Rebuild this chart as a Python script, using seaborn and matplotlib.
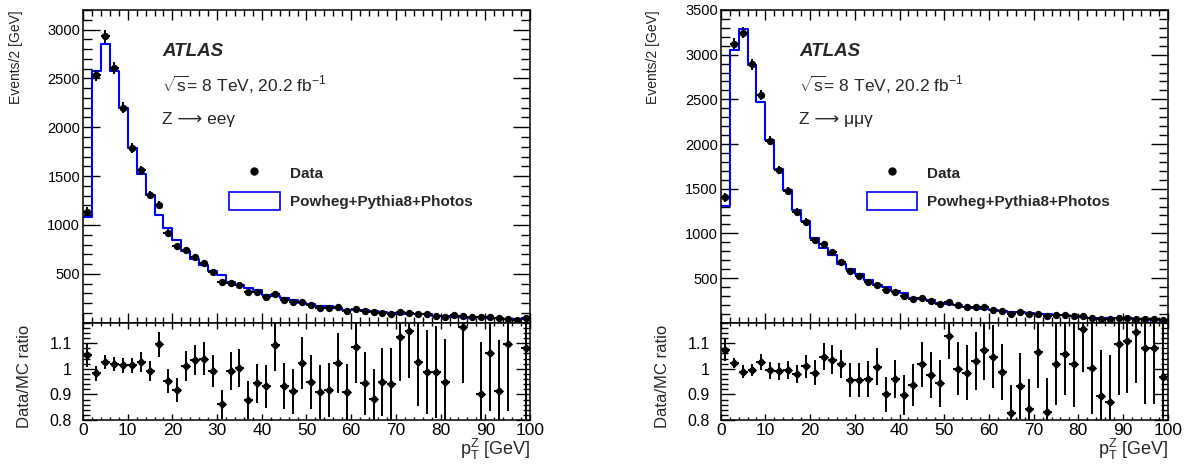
import numpy as np
import pandas as pd
import matplotlib
matplotlib.use("Agg")
import matplotlib.pyplot as plt
import seaborn as sns
from matplotlib.lines import Line2D
from matplotlib.patches import Patch
from matplotlib.ticker import MultipleLocator, FixedLocator, FuncFormatter

# === binning (2 GeV bins from 0 to 100) ===
bin_edges = np.arange(0, 101, 2)
bin_centers = bin_edges[:-1] + 1

# === Z -> ee gamma ===
ee_mc = [1085, 2580, 2850, 2575, 2200, 1790, 1520, 1310, 1100, 965,
         850, 735, 650, 595, 525, 485, 415, 385, 355, 330,
         285, 270, 250, 230, 205, 190, 170, 168, 154, 135,
         126, 127, 120, 109, 95, 94, 90, 87, 87, 73,
         64, 62, 58, 44, 61, 52, 49, 35, 40, 42]
ee_data = [1135, 2530, 2930, 2605, 2200, 1790, 1560, 1305, 1205, 920,
           780, 745, 670, 612, 519, 420, 410, 386, 311, 311,
           266, 294, 232, 209, 209, 181, 154, 154, 157, 123,
           137, 120, 106, 103, 89, 106, 103, 89, 86, 72,
           61, 78, 68, 55, 55, 55, 45, 38, 27, 45]
ee_data_err = [45, 60, 65, 60, 55, 50, 45, 42, 40, 35,
               32, 31, 30, 28, 26, 24, 23, 22, 20, 20,
               19, 19, 18, 17, 17, 16, 15, 15, 15, 13,
               14, 13, 12, 12, 11, 12, 12, 11, 11, 10,
               9, 10, 10, 9, 9, 9, 8, 8, 7, 8]
ee_ratio = [1.053, 0.982, 1.027, 1.020, 1.014, 1.014, 1.027, 0.991, 1.095, 0.952,
            0.916, 1.010, 1.033, 1.040, 0.991, 0.861, 0.991, 1.004, 0.878, 0.943,
            0.932, 1.091, 0.932, 0.913, 1.023, 0.948, 0.909, 0.917, 1.023, 0.909,
            1.086, 0.943, 0.881, 0.948, 0.939, 1.124, 1.149, 1.025, 0.987, 0.987,
            0.948, np.nan, 1.163, np.nan, 0.903, 1.062, 0.913, 1.095, np.nan, 1.082]
ee_ratio_err = [0.045, 0.028, 0.028, 0.027, 0.030, 0.030, 0.039, 0.040, 0.049, 0.047,
                0.047, 0.058, 0.058, 0.064, 0.062, 0.058, 0.074, 0.075, 0.073, 0.077,
                0.084, 0.100, 0.091, 0.088, 0.100, 0.104, 0.104, 0.107, 0.117, 0.110,
                0.140, 0.122, 0.120, 0.134, 0.143, 0.170, 0.184, 0.170, 0.165, 0.180,
                0.170, np.nan, 0.220, np.nan, 0.200, 0.227, 0.200, 0.260, np.nan, 0.280]

# === Z -> mumu gamma ===
mm_mc = [1305, 3055, 3290, 2880, 2465, 2050, 1720, 1485, 1265, 1140,
         945, 840, 760, 660, 600, 540, 478, 422, 405, 353,
         328, 282, 266, 252, 220, 208, 197, 181, 166, 159,
         139, 128, 125, 123, 114, 97, 92, 82, 83, 75,
         67, 58, 53, 54, 53, 49, 38, 40, 33, 30]
mm_data = [1404, 3123, 3247, 2891, 2544, 2039, 1714, 1479, 1243, 1131,
           929, 881, 787, 675, 574, 518, 459, 425, 365, 339,
           294, 264, 271, 245, 208, 234, 197, 178, 171, 171,
           145, 126, 103, 115, 96, 103, 77, 84, 88, 77,
           77, 58, 47, 47, 58, 54, 43, 43, 36, 29]
mm_data_err = [50, 65, 65, 60, 55, 50, 45, 42, 40, 37,
               33, 32, 30, 28, 26, 25, 23, 22, 20, 20,
               19, 18, 18, 17, 16, 16, 15, 15, 14, 14,
               13, 12, 11, 11, 11, 11, 10, 10, 10, 10,
               9, 8, 8, 8, 8, 8, 7, 7, 7, 6]
mm_ratio = [1.075, 1.023, 0.988, 0.995, 1.027, 0.995, 0.991, 0.997, 0.980, 1.010,
            0.985, 1.047, 1.036, 1.020, 0.956, 0.956, 0.961, 1.008, 0.900, 0.961,
            0.897, 0.935, 1.017, 0.974, 0.943, 1.127, 1.000, 0.984, 1.030, 1.075,
            1.047, 0.987, 0.826, 0.932, 0.842, 1.066, 0.833, 1.020, 1.058, 1.020,
            1.157, 1.004, 0.894, 0.872, 1.097, 1.107, 1.144, 1.082, 1.082, 0.967]
mm_ratio_err = [0.045, 0.018, 0.025, 0.025, 0.030, 0.033, 0.033, 0.035, 0.035, 0.045,
                0.050, 0.053, 0.055, 0.055, 0.065, 0.065, 0.070, 0.073, 0.068, 0.075,
                0.078, 0.082, 0.087, 0.090, 0.093, 0.090, 0.104, 0.107, 0.113, 0.120,
                0.123, 0.110, 0.110, 0.130, 0.120, 0.140, 0.130, 0.160, 0.160, 0.170,
                0.170, 0.180, 0.180, 0.180, 0.200, 0.200, 0.200, 0.220, 0.220, 0.250]

channels = [
    dict(mc=ee_mc, data=ee_data, err=ee_data_err, ratio=ee_ratio, rerr=ee_ratio_err,
         ymax=3200, yticks=[500, 1000, 1500, 2000, 2500, 3000],
         proc="Z \u27f6 ee\u03b3"),
    dict(mc=mm_mc, data=mm_data, err=mm_data_err, ratio=mm_ratio, rerr=mm_ratio_err,
         ymax=3500, yticks=[500, 1000, 1500, 2000, 2500, 3000, 3500],
         proc="Z \u27f6 \u03bc\u03bc\u03b3"),
]

sns.set_theme(style="ticks")
plt.rcParams["font.family"] = ["Liberation Sans", "DejaVu Sans"]
plt.rcParams["mathtext.fontset"] = "custom"
plt.rcParams["mathtext.rm"] = "Liberation Sans"
plt.rcParams["mathtext.it"] = "Liberation Sans:italic"
plt.rcParams["axes.linewidth"] = 1.1
plt.rcParams["axes.edgecolor"] = "black"

fig = plt.figure(figsize=(11.94, 4.65), dpi=100)
lefts = [0.0695, 0.6036]
width = 0.3744


def style_ticks(ax, major_len_x, minor_len_x, major_len_y, minor_len_y):
    ax.tick_params(axis="both", which="both", direction="in", top=True, right=True,
                   colors="black", width=1.0)
    ax.tick_params(axis="x", which="major", length=major_len_x)
    ax.tick_params(axis="x", which="minor", length=minor_len_x)
    ax.tick_params(axis="y", which="major", length=major_len_y)
    ax.tick_params(axis="y", which="minor", length=minor_len_y)


for ch, x0 in zip(channels, lefts):
    ax = fig.add_axes([x0, 0.306, width, 0.6725])
    rax = fig.add_axes([x0, 0.0968, width, 0.2092], sharex=ax)

    # step outline: each bin value held from its low edge, last value repeated at 100
    step_df = pd.DataFrame({"edge": bin_edges,
                            "events": list(ch["mc"]) + [ch["mc"][-1]]})
    pts = pd.DataFrame({"pt": bin_centers,
                        "events": np.asarray(ch["data"], dtype=float),
                        "ratio": np.asarray(ch["ratio"], dtype=float)})

    # MC histogram
    sns.lineplot(data=step_df, x="edge", y="events", drawstyle="steps-post",
                 estimator=None, color="#0000ff", linewidth=1.5, ax=ax)
    # data points
    ax.errorbar(pts["pt"], pts["events"], yerr=ch["err"], xerr=1, fmt="none",
                ecolor="black", elinewidth=1.4, capsize=0, zorder=3)
    sns.scatterplot(data=pts, x="pt", y="events", color="black", s=28, linewidth=0,
                    ax=ax, zorder=4)

    ax.set_xlim(0, 100)
    ax.set_ylim(0, ch["ymax"])
    ax.yaxis.set_major_locator(FixedLocator(ch["yticks"]))
    ax.yaxis.set_minor_locator(MultipleLocator(100))
    ax.xaxis.set_major_locator(MultipleLocator(10))
    ax.xaxis.set_minor_locator(MultipleLocator(2))
    style_ticks(ax, 7.5, 4, 12, 6.5)
    ax.tick_params(axis="x", labelbottom=False)
    ax.tick_params(axis="y", labelsize=10.5, pad=2)
    ax.set_xlabel("")
    ax.set_ylabel("Events/2 [GeV]", fontsize=10, loc="top", color="#222222")
    ax.yaxis.set_label_coords(-0.135, 1.0)

    ax.text(0.177, 0.866, "ATLAS", transform=ax.transAxes, fontsize=13.5,
            fontweight="bold", fontstyle="italic", va="center", ha="left")
    ax.text(0.176, 0.760, r"$\sqrt{\mathrm{s}}$= 8 TeV, 20.2 fb$^{\mathrm{-1}}$",
            transform=ax.transAxes, fontsize=12.5, va="center", ha="left")
    ax.text(0.176, 0.651, ch["proc"], transform=ax.transAxes, fontsize=12.5,
            va="center", ha="left")

    handles = [
        Line2D([], [], marker="o", linestyle="none", color="black", markersize=5),
        Patch(facecolor="white", edgecolor="#0000ff", linewidth=1.2),
    ]
    ax.legend(handles, ["Data", "Powheg+Pythia8+Photos"], loc="upper left",
              bbox_to_anchor=(0.327, 0.509), frameon=False, borderpad=0,
              borderaxespad=0, handlelength=3.3, handleheight=1.5,
              labelspacing=0.62, handletextpad=0.65,
              prop={"weight": "bold", "size": 11})

    # ratio panel
    rax.errorbar(pts["pt"], pts["ratio"], yerr=ch["rerr"], xerr=1, fmt="none",
                 ecolor="black", elinewidth=1.4, capsize=0, zorder=3)
    sns.scatterplot(data=pts, x="pt", y="ratio", color="black", s=22, linewidth=0,
                    marker="D", ax=rax, zorder=4)
    rax.set_ylim(0.8, 1.18)
    rax.yaxis.set_major_locator(FixedLocator([0.8, 0.9, 1.0, 1.1]))
    rax.yaxis.set_minor_locator(MultipleLocator(0.02))
    rax.yaxis.set_major_formatter(FuncFormatter(lambda v, p: "%g" % round(v, 2)))
    style_ticks(rax, 4, 2, 10, 5)
    rax.tick_params(axis="y", labelsize=11.5, pad=8)
    rax.tick_params(axis="x", labelsize=12.5, pad=2)
    rax.set_ylabel("Data/MC ratio", fontsize=12)
    rax.yaxis.set_label_coords(-0.114, 0.45)
    rax.set_xlabel(r"$\mathrm{p}_{\mathrm{T}}^{\mathrm{Z}}$ [GeV]", fontsize=13, loc="right")
    rax.xaxis.set_label_coords(1.0, -0.17)

fig.savefig("out.png", dpi=100)
